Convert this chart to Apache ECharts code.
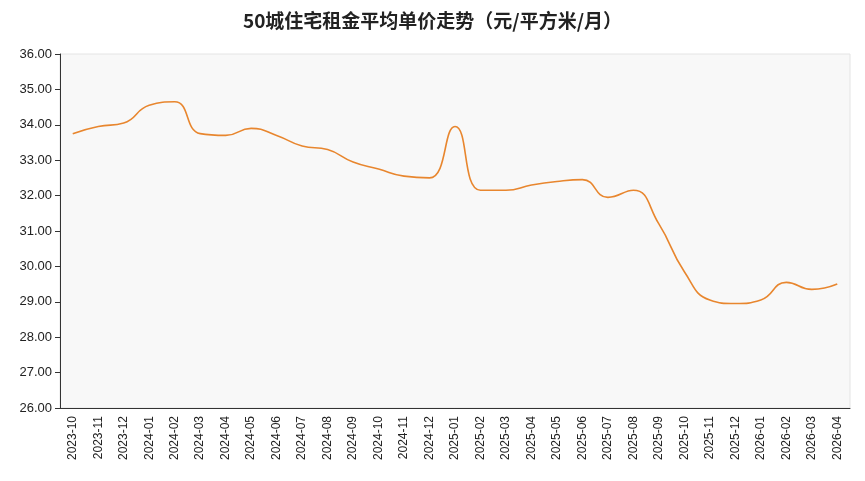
<!DOCTYPE html>
<html><head><meta charset="utf-8">
<script src="https://cdn.jsdelivr.net/npm/echarts@6/dist/echarts.min.js"></script>
<style>html,body{margin:0;background:#fff}#main{width:865px;height:481px}</style>
</head><body><div id="main"></div>
<script>
var months = ['2023-10','2023-11','2023-12','2024-01','2024-02','2024-03','2024-04','2024-05','2024-06','2024-07','2024-08','2024-09','2024-10','2024-11','2024-12','2025-01','2025-02','2025-03','2025-04','2025-05','2025-06','2025-07','2025-08','2025-09','2025-10','2025-11','2025-12','2026-01','2026-02','2026-03','2026-04'];
var rent = [33.75,33.95,34.05,34.55,34.65,33.75,33.7,33.9,33.7,33.4,33.3,32.95,32.75,32.55,32.5,33.95,32.15,32.15,32.3,32.4,32.45,31.95,32.15,31.2,29.85,29.05,28.95,29.05,29.55,29.35,29.5];

var chart = echarts.init(document.getElementById('main'));
chart.setOption({
    backgroundColor: '#fff',
    title: {
        text: '50城住宅租金平均单价走势（元/平方米/月）',
        left: 'center', top: 6,
        textStyle: { fontSize: 19, fontWeight: 'bold', color: '#222', fontFamily: 'Noto Sans CJK SC' }
    },
    grid: { left: 60, right: 15, top: 54, bottom: 73, show: true, backgroundColor: '#f8f8f8', borderColor: '#e4e4e4' },
    xAxis: {
        type: 'category', data: months, boundaryGap: true,
        axisLine: { lineStyle: { color: '#333' } },
        axisTick: { alignWithLabel: true, lineStyle: { color: '#333' } },
        axisLabel: { rotate: 90, color: '#222', fontSize: 12, interval: 0 }
    },
    yAxis: {
        type: 'value', min: 26, max: 36, interval: 1,
        axisLine: { show: true, lineStyle: { color: '#333' } },
        axisTick: { show: true },
        axisLabel: { color: '#222', fontSize: 13, formatter: function (v) { return v.toFixed(2); } },
        splitLine: { show: false }
    },
    series: [{
        type: 'line', data: rent, smooth: true, symbol: 'none',
        lineStyle: { color: '#e8862e', width: 1.6 }
    }]
});
</script></body></html>
